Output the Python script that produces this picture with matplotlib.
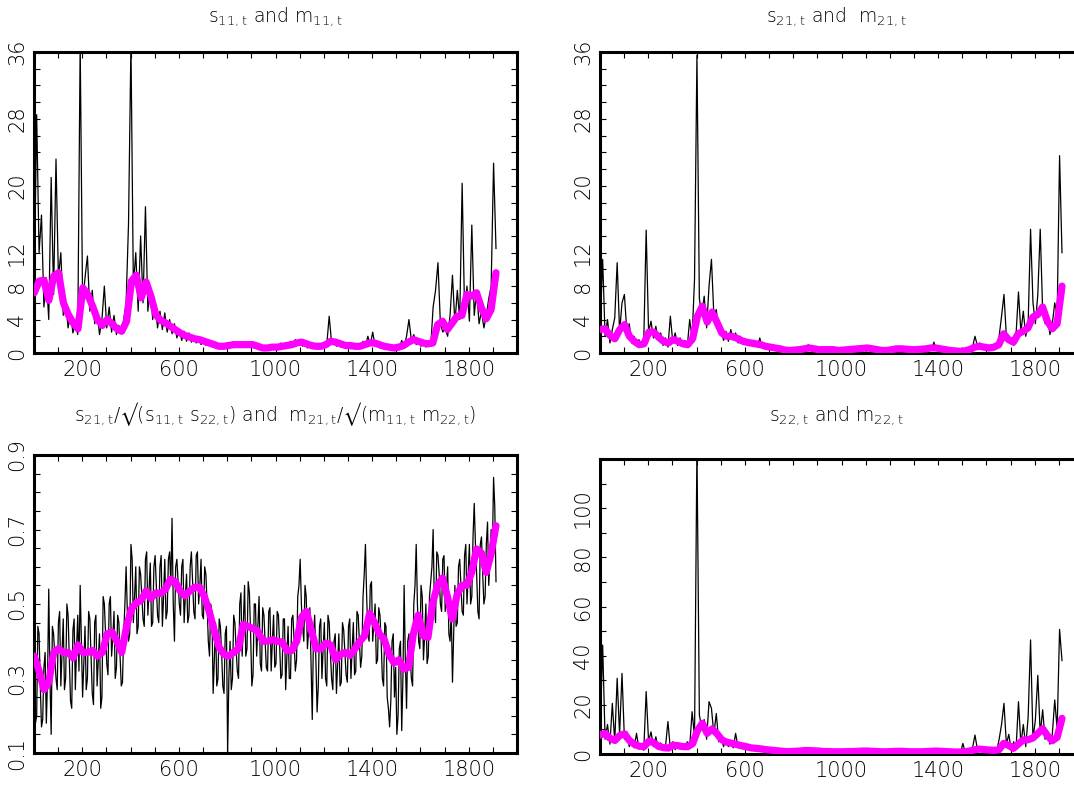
import numpy as np
import matplotlib
matplotlib.use("Agg")
import matplotlib.pyplot as plt
from matplotlib.ticker import FixedLocator, FuncFormatter

# ---------------- data ----------------
T_BLACK = np.linspace(1, 1913, 192)
T_FINE = np.linspace(1, 1913, 383)
T_SMOOTH = np.linspace(1, 1913, 96)

s11 = [8, 28.5, 12, 16.5, 5.5, 9, 4, 21, 7, 23.2,
       9, 12, 4.5, 6, 3, 4.8, 2.4, 3.5, 2.2, 37,
       6, 9, 11.6, 5, 7.5, 3.5, 5, 2.2, 4, 8,
       3, 5.5, 2.5, 4.5, 2.2, 3.3, 2.3, 4, 6, 15.5,
       37, 8, 12, 5, 14, 6, 17.5, 5, 8, 4,
       6, 3, 5, 2.8, 4.8, 2.5, 4, 2.3, 3.5, 1.8,
       2.8, 1.5, 2.6, 1.4, 2.4, 1.3, 2.1, 1.2, 1.9, 1.0,
       1.7, 0.9, 1.5, 0.8, 1.3, 0.6, 1.1, 0.6, 1.0, 0.7,
       1.2, 0.7, 1.3, 0.8, 1.2, 0.7, 1.3, 0.8, 1.2, 0.7,
       1.1, 0.6, 0.9, 0.4, 0.8, 0.4, 0.7, 0.4, 0.9, 0.5,
       0.8, 0.5, 1.2, 0.6, 1.0, 0.6, 1.4, 0.8, 1.6, 0.9,
       1.5, 0.8, 1.3, 0.6, 1.0, 0.5, 0.9, 0.5, 1.0, 0.6,
       1.2, 1.0, 4.4, 1.2, 1.6, 0.8, 1.3, 0.7, 1.1, 0.6,
       1.0, 0.5, 0.9, 0.5, 1.0, 0.6, 1.4, 0.8, 2.0, 1.0,
       2.5, 0.8, 1.2, 0.6, 0.9, 0.4, 0.8, 0.4, 0.7, 0.4,
       0.8, 0.5, 1.5, 0.7, 2.0, 4.0, 1.5, 2.2, 1.0, 1.6,
       0.8, 1.3, 0.7, 1.2, 0.8, 5.5, 7.5, 10.8, 3.5, 2.5,
       3.0, 2.0, 4.5, 9.3, 3.5, 7.5, 4.0, 20.3, 5.0, 8.0,
       3.8, 15.3, 4.5, 7.5, 3.5, 5.0, 3.0, 4.5, 6.5, 8.0,
       22.7, 12.5]
m11 = [7.2, 8.6, 8.7, 6.3, 9.2, 9.6, 6.0, 4.6, 3.6, 2.9,
       7.8, 7.0, 5.6, 4.0, 3.3, 4.0, 3.5, 2.9, 2.6, 3.8,
       8.6, 9.3, 6.6, 8.5, 6.8, 4.6, 3.9, 3.6, 3.2, 2.8,
       2.4, 2.1, 1.9, 1.7, 1.6, 1.4, 1.2, 1.0, 0.8, 0.8,
       0.9, 1.0, 1.0, 1.0, 1.0, 1.0, 0.8, 0.6, 0.6, 0.7,
       0.7, 0.8, 0.9, 1.0, 1.2, 1.3, 1.1, 0.9, 0.8, 0.8,
       1.0, 1.4, 1.3, 1.1, 0.9, 0.9, 0.8, 0.8, 1.0, 1.2,
       1.2, 1.0, 0.8, 0.7, 0.6, 0.7, 0.9, 1.3, 1.6, 1.4,
       1.2, 1.1, 1.2, 3.4, 3.8, 2.8, 3.6, 4.4, 4.5, 7.0,
       6.8, 7.2, 5.4, 4.1, 5.2, 9.6]

s21 = [3.5, 11.2, 2.0, 4.0, 1.2, 2.8, 4.2, 10.8, 2.5, 6.0,
       7.0, 2.5, 3.5, 1.2, 2.0, 0.8, 1.6, 0.7, 1.4, 14.7,
       2.5, 3.8, 1.8, 3.2, 1.5, 2.4, 0.9, 1.8, 0.7, 4.4,
       1.3, 2.4, 0.9, 1.8, 0.8, 1.5, 0.8, 4.0, 1.8, 8.8,
       35.6, 6.5, 4.5, 6.8, 3.0, 8.0, 11.2, 4.5, 5.2, 2.5,
       3.0, 1.5, 2.6, 1.4, 2.8, 1.6, 2.4, 1.2, 2.0, 1.0,
       1.7, 0.9, 1.5, 0.8, 1.4, 0.7, 1.8, 0.6, 1.0, 0.5,
       0.9, 0.4, 0.8, 0.4, 0.7, 0.3, 0.5, 0.2, 0.4, 0.2,
       0.5, 0.3, 0.6, 0.3, 0.7, 0.4, 1.0, 0.4, 0.7, 0.3,
       0.6, 0.3, 0.5, 0.2, 0.5, 0.2, 0.6, 0.2, 0.4, 0.2,
       0.5, 0.3, 0.6, 0.3, 0.6, 0.3, 0.7, 0.4, 0.8, 0.4,
       0.9, 0.4, 0.7, 0.3, 0.5, 0.2, 0.4, 0.2, 0.4, 0.2,
       0.5, 0.3, 0.8, 0.3, 0.7, 0.3, 0.6, 0.3, 0.5, 0.2,
       0.5, 0.3, 0.6, 0.3, 0.7, 0.3, 0.8, 0.4, 1.3, 0.4,
       0.8, 0.3, 0.5, 0.2, 0.4, 0.2, 0.3, 0.1, 0.3, 0.1,
       0.3, 0.2, 0.4, 0.3, 0.7, 2.0, 0.9, 1.2, 0.6, 0.9,
       0.5, 0.8, 0.5, 0.8, 0.6, 2.0, 4.4, 7.0, 2.0, 1.3,
       1.8, 0.9, 2.2, 7.3, 2.5, 5.0, 2.0, 3.5, 14.8, 6.0,
       3.5, 7.0, 14.8, 5.0, 3.5, 4.5, 2.2, 3.5, 6.0, 4.5,
       23.6, 12.0]
m21 = [2.8, 2.9, 2.1, 1.7, 2.8, 3.4, 2.0, 1.4, 1.0, 1.1,
       2.5, 2.5, 1.9, 1.4, 1.2, 1.6, 1.4, 1.1, 1.0, 1.7,
       4.4, 5.6, 3.7, 4.9, 3.7, 2.4, 2.0, 2.0, 1.8, 1.5,
       1.3, 1.2, 1.1, 1.0, 0.8, 0.7, 0.6, 0.5, 0.35, 0.3,
       0.35, 0.4, 0.5, 0.6, 0.5, 0.4, 0.4, 0.4, 0.4, 0.3,
       0.35, 0.4, 0.45, 0.5, 0.55, 0.6, 0.5, 0.4, 0.3, 0.3,
       0.4, 0.5, 0.5, 0.45, 0.4, 0.4, 0.45, 0.5, 0.6, 0.6,
       0.5, 0.4, 0.3, 0.25, 0.2, 0.25, 0.4, 0.7, 0.8, 0.7,
       0.6, 0.7, 1.0, 2.3, 1.6, 1.3, 2.3, 2.6, 3.0, 4.3,
       4.6, 5.5, 3.8, 2.9, 3.5, 8.0]

# correlation, black: values at even fine steps ...
r21 = [0.38, 0.20, 0.42, 0.17, 0.33, 0.18, 0.54, 0.15, 0.42, 0.30,
       0.45, 0.28, 0.46, 0.30, 0.47, 0.24, 0.43, 0.27, 0.47, 0.55,
       0.25, 0.44, 0.30, 0.46, 0.26, 0.45, 0.28, 0.42, 0.25, 0.50,
       0.34, 0.50, 0.36, 0.48, 0.33, 0.45, 0.28, 0.42, 0.60, 0.40,
       0.66, 0.45, 0.60, 0.44, 0.58, 0.46, 0.62, 0.47, 0.61, 0.45,
       0.63, 0.47, 0.60, 0.44, 0.62, 0.48, 0.64, 0.73, 0.40, 0.62,
       0.50, 0.60, 0.45, 0.58, 0.47, 0.64, 0.48, 0.63, 0.50, 0.62,
       0.46, 0.58, 0.40, 0.50, 0.26, 0.45, 0.30, 0.44, 0.28, 0.42,
       0.10, 0.40, 0.30, 0.45, 0.32, 0.50, 0.36, 0.55, 0.38, 0.53,
       0.28, 0.50, 0.36, 0.52, 0.32, 0.47, 0.33, 0.48, 0.32, 0.47,
       0.34, 0.47, 0.30, 0.46, 0.27, 0.44, 0.30, 0.47, 0.32, 0.52,
       0.62, 0.44, 0.55, 0.38, 0.49, 0.19, 0.47, 0.21, 0.44, 0.30,
       0.45, 0.28, 0.45, 0.30, 0.40, 0.26, 0.42, 0.29, 0.43, 0.31,
       0.44, 0.30, 0.45, 0.32, 0.47, 0.33, 0.52, 0.66, 0.42, 0.55,
       0.40, 0.50, 0.35, 0.47, 0.30, 0.45, 0.25, 0.17, 0.40, 0.25,
       0.15, 0.38, 0.16, 0.55, 0.22, 0.42, 0.30, 0.50, 0.66, 0.40,
       0.55, 0.35, 0.50, 0.36, 0.56, 0.70, 0.45, 0.63, 0.50, 0.62,
       0.48, 0.60, 0.40, 0.29, 0.55, 0.45, 0.62, 0.48, 0.63, 0.50,
       0.66, 0.52, 0.77, 0.58, 0.46, 0.68, 0.50, 0.66, 0.55, 0.70,
       0.84, 0.56]
# ... and at odd fine steps
r21_mid = [0.18, 0.44, 0.28, 0.19, 0.37, 0.30, 0.30, 0.44, 0.36, 0.27,
           0.48, 0.37, 0.27, 0.50, 0.35, 0.22, 0.46, 0.38, 0.32, 0.40,
           0.34, 0.27, 0.48, 0.36, 0.23, 0.47, 0.35, 0.22, 0.52, 0.42,
           0.31, 0.52, 0.41, 0.30, 0.47, 0.36, 0.29, 0.50, 0.48, 0.42,
           0.62, 0.52, 0.42, 0.60, 0.52, 0.44, 0.64, 0.54, 0.44, 0.60,
           0.55, 0.45, 0.63, 0.52, 0.46, 0.62, 0.55, 0.50, 0.60, 0.56,
           0.47, 0.62, 0.52, 0.45, 0.60, 0.56, 0.46, 0.64, 0.55, 0.47,
           0.60, 0.50, 0.36, 0.48, 0.35, 0.28, 0.46, 0.37, 0.26, 0.44,
           0.30, 0.27, 0.47, 0.38, 0.30, 0.53, 0.45, 0.36, 0.56, 0.42,
           0.31, 0.50, 0.44, 0.34, 0.49, 0.40, 0.32, 0.49, 0.40, 0.33,
           0.48, 0.39, 0.31, 0.46, 0.36, 0.30, 0.46, 0.40, 0.35, 0.55,
           0.50, 0.40, 0.52, 0.43, 0.34, 0.42, 0.35, 0.28, 0.46, 0.38,
           0.30, 0.47, 0.37, 0.27, 0.42, 0.34, 0.28, 0.45, 0.37, 0.29,
           0.46, 0.38, 0.31, 0.48, 0.40, 0.36, 0.58, 0.52, 0.40, 0.56,
           0.45, 0.34, 0.49, 0.40, 0.28, 0.44, 0.22, 0.24, 0.42, 0.33,
           0.20, 0.40, 0.30, 0.35, 0.40, 0.36, 0.28, 0.55, 0.50, 0.38,
           0.52, 0.42, 0.34, 0.52, 0.60, 0.50, 0.64, 0.58, 0.48, 0.63,
           0.54, 0.42, 0.48, 0.42, 0.44, 0.60, 0.55, 0.47, 0.66, 0.58,
           0.50, 0.68, 0.66, 0.48, 0.66, 0.58, 0.52, 0.72, 0.62, 0.64,
           0.76]
rm21 = [0.36, 0.32, 0.27, 0.29, 0.37, 0.38, 0.37, 0.37, 0.355, 0.39,
        0.37, 0.37, 0.375, 0.36, 0.37, 0.42, 0.425, 0.40, 0.37, 0.44,
        0.487, 0.503, 0.51, 0.535, 0.515, 0.53, 0.528, 0.54, 0.566, 0.56,
        0.535, 0.522, 0.535, 0.545, 0.545, 0.52, 0.48, 0.43, 0.385, 0.365,
        0.36, 0.37, 0.38, 0.445, 0.44, 0.434, 0.427, 0.40, 0.40, 0.404,
        0.40, 0.398, 0.375, 0.375, 0.40, 0.465, 0.48, 0.43, 0.38, 0.38,
        0.395, 0.39, 0.35, 0.365, 0.37, 0.362, 0.38, 0.40, 0.415, 0.475,
        0.45, 0.42, 0.405, 0.365, 0.342, 0.35, 0.325, 0.33, 0.42, 0.47,
        0.415, 0.41, 0.505, 0.55, 0.57, 0.52, 0.46, 0.525, 0.55, 0.55,
        0.585, 0.648, 0.637, 0.585, 0.635, 0.71]

s22 = [10, 44.3, 6, 12, 4, 20.6, 5, 30.8, 8, 32.8,
       6, 9, 3, 6, 2.5, 8.4, 2, 4, 1.5, 25.4,
       5, 9, 3, 7, 2, 4.5, 1.5, 3, 13.2, 2,
       5, 1.8, 4, 2, 4, 2, 5, 3, 17.2, 7,
       125, 16, 10, 14, 6, 21.3, 18.6, 8, 16.5, 5,
       7, 3, 6, 3, 5, 2.5, 8.4, 2.5, 4.5, 2,
       4, 1.8, 3.5, 1.5, 3, 1.3, 2.8, 1.2, 2.5, 1,
       2.2, 0.9, 2, 0.8, 1.8, 0.6, 1.6, 0.6, 1.5, 0.6,
       1.8, 0.7, 2, 0.8, 2.2, 0.8, 2.5, 0.9, 2, 0.8,
       1.8, 0.7, 1.5, 0.5, 1.4, 0.5, 1.3, 0.5, 1.3, 0.5,
       1.4, 0.6, 1.5, 0.6, 1.6, 0.6, 1.7, 0.7, 1.8, 0.7,
       1.9, 0.7, 1.7, 0.6, 1.5, 0.5, 1.4, 0.5, 1.3, 0.5,
       1.5, 0.6, 1.7, 0.6, 1.6, 0.6, 1.5, 0.5, 1.4, 0.5,
       1.3, 0.5, 1.4, 0.5, 1.5, 0.6, 1.7, 0.7, 2.2, 0.7,
       1.8, 0.6, 1.5, 0.5, 1.3, 0.4, 1.2, 0.4, 1.1, 0.4,
       4.3, 0.5, 1.4, 0.6, 2.5, 7.7, 2, 3, 1.2, 2.5,
       1, 2.2, 1, 2, 1.2, 6, 12, 20.6, 4, 8,
       1.5, 5, 2, 21.3, 4, 12, 3, 15, 46.4, 6,
       14, 32, 8, 18, 6, 9, 4, 8, 22, 10,
       50.7, 38]
m22 = [7.7, 8.4, 6.4, 5.5, 7.5, 8.2, 5.5, 4.0, 3.2, 3.0,
       5.2, 4.6, 3.1, 2.6, 2.4, 3.6, 3.4, 3.0, 3.0, 4.2,
       9.5, 12.5, 8.4, 10.2, 8.3, 5.8, 4.8, 4.4, 3.9, 3.4,
       3.0, 2.5, 2.3, 2.1, 1.8, 1.6, 1.4, 1.2, 1.0, 1.0,
       1.1, 1.2, 1.4, 1.4, 1.3, 1.2, 1.0, 1.0, 0.9, 0.9,
       0.9, 1.0, 1.0, 1.1, 1.2, 1.2, 1.1, 1.0, 0.9, 0.9,
       1.0, 1.1, 1.1, 1.0, 0.9, 0.9, 0.9, 1.0, 1.1, 1.2,
       1.1, 1.0, 0.9, 0.8, 0.8, 0.9, 1.2, 1.7, 2.0, 1.8,
       1.6, 1.5, 1.7, 4.3, 3.5, 2.3, 4.0, 5.7, 5.8, 6.5,
       8.3, 10.3, 7.5, 5.4, 6.8, 14.5]

X_TICKS = list(range(100, 2000, 100))
X_LABELS = [200, 600, 1000, 1400, 1800]

TITLES = [
    r"$\mathregular{s_{11,t}}$ and $\mathregular{m_{11,t}}$",
    r"$\mathregular{s_{21,t}}$ and  $\mathregular{m_{21,t}}$",
    r"$\mathregular{s_{21,t}/√(s_{11,t}\ s_{22,t})}$ and  $\mathregular{m_{21,t}/√(m_{11,t}\ m_{22,t})}$",
    r"$\mathregular{s_{22,t}}$ and $\mathregular{m_{22,t}}$",
]

# ---------------- styling ----------------
plt.rcParams["font.family"] = ["DejaVu Sans"]
plt.rcParams["font.weight"] = "light"
TXT = "black"
MAG = "#ff00ff"

W, H = 1074, 785
fig = plt.figure(figsize=(W / 100, H / 100), dpi=100)


def box(l, t, r, b):
    return [l / W, 1 - b / H, (r - l) / W, (b - t) / H]


def style(ax, ylim, yticks, ylabels, fmt):
    ax.set_xlim(0, 2000)
    ax.set_ylim(*ylim)
    ax.xaxis.set_major_locator(FixedLocator(X_TICKS))
    ax.xaxis.set_major_formatter(FuncFormatter(
        lambda v, p: str(int(round(v))) if int(round(v)) in X_LABELS else ""))
    ax.yaxis.set_major_locator(FixedLocator(yticks))
    ax.yaxis.set_major_formatter(FuncFormatter(
        lambda v, p: (fmt % v) if any(abs(v - q) < 1e-6 for q in ylabels) else ""))
    ax.tick_params(axis="both", direction="in", length=4.5, width=0.8,
                   top=True, right=True, labelsize=15, labelcolor=TXT,
                   colors="black")
    ax.tick_params(axis="x", pad=5)
    ax.tick_params(axis="y", pad=5, labelrotation=90)
    for lab in ax.get_yticklabels():
        lab.set_va("center")
    for sp in ax.spines.values():
        sp.set_linewidth(2.2)


r21_full = np.empty(len(T_FINE))
r21_full[0::2] = r21
r21_full[1::2] = r21_mid

panels = [
    (box(34, 52, 517, 353), T_BLACK, s11, m11, (0, 36), np.arange(0, 37, 2), [0, 4, 8, 12, 20, 28, 36], "%d"),
    (box(600, 52, 1083, 353), T_BLACK, s21, m21, (0, 36), np.arange(0, 37, 2), [0, 4, 8, 12, 20, 28, 36], "%d"),
    (box(34, 455, 517, 753), T_FINE, r21_full, rm21, (0.1, 0.9), np.arange(0.1, 0.901, 0.05), [0.1, 0.3, 0.5, 0.7, 0.9], "%.1f"),
    (box(600, 459, 1083, 754), T_BLACK, s22, m22, (0, 120), np.arange(0, 121, 10), [0, 20, 40, 60, 80, 100], "%d"),
]

title_pos = [(275, 22), (836, 22), (275, 421), (836, 421)]

for (rect, tb, blk, smo, ylim, yt, yl, fmt), title, (tx, ty) in zip(panels, TITLES, title_pos):
    ax = fig.add_axes(rect)
    ax.plot(tb, blk, color="black", lw=0.9, zorder=2)
    ax.plot(T_SMOOTH, smo, color=MAG, lw=5.2, solid_capstyle="round",
            solid_joinstyle="round", zorder=3)
    style(ax, ylim, yt, yl, fmt)
    fig.text(tx / W, 1 - ty / H, title, ha="center", va="baseline",
             fontsize=13.5, color=TXT)

fig.savefig("out.png", dpi=100)
